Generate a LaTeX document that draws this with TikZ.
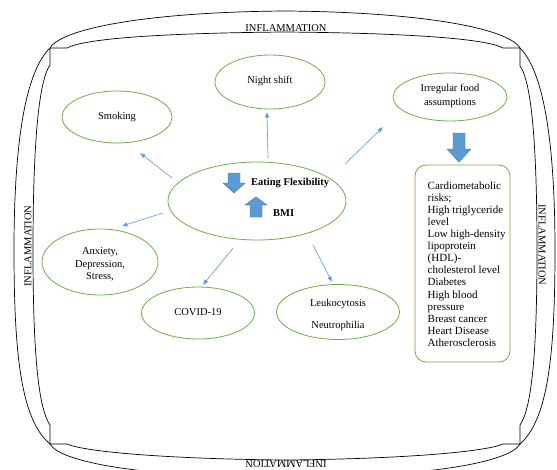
\documentclass[tikz,border=0pt]{standalone}
\usepackage{fontspec}
\setmainfont{Liberation Serif}
\usetikzlibrary{shapes.geometric,arrows.meta}
\definecolor{ovalgreen}{RGB}{112,173,71}
\definecolor{linkblue}{RGB}{91,155,213}
\definecolor{arrowedge}{RGB}{65,113,156}
\begin{document}
\begin{tikzpicture}[x=1pt,y=-1pt,
  frame/.style={draw=black,line width=0.7pt},
  oval/.style={ellipse,draw=ovalgreen,line width=0.8pt,inner sep=0pt},
  conn/.style={draw=linkblue,line width=0.6pt,-{Latex[length=5.5pt,width=4.5pt]}},
  blockarrow/.style={fill=linkblue,draw=arrowedge,line width=0.4pt},
  lbl/.style={font=\fontsize{10.5}{12.5}\selectfont,inner sep=0pt,align=center},
  boldlbl/.style={font=\fontsize{10.5}{12.5}\selectfont\bfseries,inner sep=0pt,anchor=west}]
\useasboundingbox (0,0) rectangle (557,469);
\fill[white] (0,0) rectangle (557,469);
% frame: outer lines
\draw[frame] (50,48) .. controls (62,28) and (150,12) .. (285,11) .. controls (420,12) and (508,28) .. (520,48);
\draw[frame] (50,48) .. controls (22,75) and (14,160) .. (14,250) .. controls (14,360) and (22,420) .. (50,444);
\draw[frame] (520,48) .. controls (547,75) and (555,160) .. (555,250) .. controls (555,360) and (547,420) .. (520,444);
\draw[frame] (50,444) .. controls (60,462) and (140,477) .. (285,478) .. controls (430,477) and (510,462) .. (520,444);
% frame: inner lines
\draw[frame] (50,48) -- (67,48) .. controls (85,38) and (170,33) .. (285,32) .. controls (400,33) and (485,38) .. (503,48) -- (520,48);
\draw[frame] (50,48) -- (50,65) .. controls (38,82) and (33,150) .. (33,250) .. controls (33,350) and (38,408) .. (50,425) -- (50,444) -- (67,444);
\draw[frame] (520,48) -- (520,66) .. controls (532,82) and (537,150) .. (537,250) .. controls (537,350) and (532,408) .. (520,425) -- (520,444) -- (503,444);
\draw[frame] (67,444) .. controls (85,452) and (170,459) .. (285,460) .. controls (400,459) and (485,452) .. (503,444);
% frame labels
\node[lbl] (inftop) at (286,28) {INFLAMMATION};
\node[lbl,rotate=90] (infleft) at (28,246) {INFLAMMATION};
\node[lbl,rotate=-90] (infright) at (542,245) {INFLAMMATION};
\node[lbl,rotate=180] (infbottom) at (286,463.5) {INFLAMMATION};
% ellipses
\node[oval,minimum width=178pt,minimum height=78pt] (center) at (257,201) {};
\node[oval,minimum width=110pt,minimum height=54pt] (night) at (270,82) {};
\node[oval,minimum width=110pt,minimum height=52pt] (smoking) at (117,117) {};
\node[oval,minimum width=114pt,minimum height=48pt] (food) at (450,97) {};
\node[oval,minimum width=116pt,minimum height=66pt] (anxiety) at (100,262) {};
\node[oval,minimum width=113pt,minimum height=52pt] (covid) at (198,313) {};
\node[oval,minimum width=123pt,minimum height=55pt] (leuko) at (338,312) {};
% ellipse texts
\node[lbl] (nighttxt) at (270,81) {Night shift};
\node[lbl] (smokingtxt) at (117,116.5) {Smoking};
\node[lbl,font=\fontsize{10.5}{13.5}\selectfont] (foodtxt) at (450,96) {Irregular food\\assumptions};
\node[lbl] (anxietytxt) at (100,264.5) {Anxiety,\\Depression,\\Stress,};
\node[lbl] (covidtxt) at (198,312) {COVID-19};
\node[lbl] (leukotxt) at (338,315) {Leukocytosis\\[9.5pt]Neutrophilia};
% risks box
\node[draw=ovalgreen,line width=0.8pt,rounded corners=11pt,minimum width=95pt,minimum height=197pt] (risks) at (462.5,263.5) {};
\node[anchor=west,inner sep=0pt,align=left,font=\fontsize{11}{12.1}\selectfont] (riskstxt) at (427.5,264)
  {Cardiometabolic\\risks;\\High triglyceride\\level\\Low high-density\\lipoprotein\\(HDL)-\\cholesterol level\\Diabetes\\High blood\\pressure\\Breast cancer\\Heart Disease\\Atherosclerosis};
% central texts
\node[boldlbl] (eating) at (251,183.5) {Eating Flexibility};
\node[boldlbl] (bmi) at (273,213.5) {BMI};
% block arrows
\draw[blockarrow] (228,173) -- (240,173) -- (240,183) -- (245,183) -- (234,193) -- (223,183) -- (228,183) -- cycle;
\draw[blockarrow] (250,217) -- (262,217) -- (262,205) -- (267,205) -- (256,197) -- (245,205) -- (250,205) -- cycle;
\draw[blockarrow] (453,133) -- (465,133) -- (465,149) -- (471,149) -- (459,162) -- (447,149) -- (453,149) -- cycle;
% connectors
\coordinate (n1) at (268,158); \coordinate (n2) at (267,112);
\coordinate (s1) at (172,178); \coordinate (s2) at (140,153);
\coordinate (f1) at (345,164); \coordinate (f2) at (383,127);
\coordinate (a1) at (163,213); \coordinate (a2) at (122,226);
\coordinate (c1) at (233,248); \coordinate (c2) at (203,285);
\coordinate (l1) at (313,245); \coordinate (l2) at (332,282);
\draw[conn] (n1) -- (n2);
\draw[conn] (s1) -- (s2);
\draw[conn] (f1) -- (f2);
\draw[conn] (a1) -- (a2);
\draw[conn] (c1) -- (c2);
\draw[conn] (l1) -- (l2);
\end{tikzpicture}
\end{document}
